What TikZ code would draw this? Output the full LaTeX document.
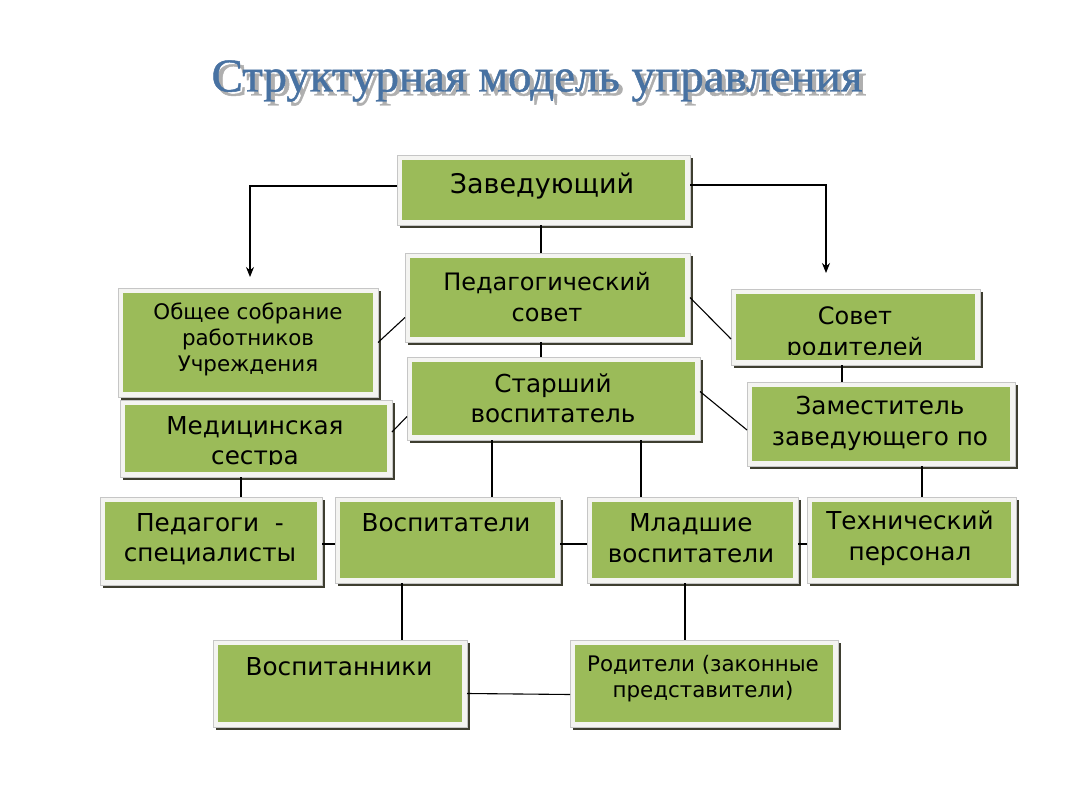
\documentclass[tikz,border=0pt]{standalone}
\usepackage{fontspec}
\setmainfont{DejaVu Sans}
\newfontfamily\titlefont[FakeBold=1]{Liberation Serif}
\usetikzlibrary{arrows.meta}
\definecolor{boxgreen}{HTML}{9BBB59}
\definecolor{boxrim}{HTML}{F4F4F1}
\definecolor{boxshade}{RGB}{62,62,48}
\definecolor{titleblue}{RGB}{72,114,162}
\definecolor{titleshade}{RGB}{175,175,175}
\tikzset{
  rimbox/.style={fill=boxrim, draw=gray!45, line width=0.5pt, inner sep=0pt, outer sep=0pt,
    path picture={\fill[boxgreen] ([shift={(5pt,-5pt)}]path picture bounding box.north west) rectangle ([shift={(-5pt,5pt)}]path picture bounding box.south east);}},
  boxtext/.style={align=center, inner sep=0pt, text=black},
  conn/.style={draw=black, line width=1.1pt},
  arr/.style={conn, -{Stealth[length=10pt,width=8pt]}},
  titletext/.style={font=\titlefont\fontsize{47}{52}\selectfont}
}
\newcommand\gbox[5]{%
  \fill[boxshade] (#2+3,#3+3) rectangle (#4+2.5,#5+2.5);
  \node[rimbox, anchor=north west, minimum width={(#4-#2)*1pt}, minimum height={(#5-#3)*1pt}] (#1) at (#2,#3) {};
}
\newcommand\fs[2]{\fontsize{#1}{#2}\selectfont}
\begin{document}
\begin{tikzpicture}[x=1pt,y=-1pt]
\useasboundingbox (0,0) rectangle (1080,811);
\fill[white] (0,0) rectangle (1080,811);
% title with its shadow
\node[titletext, text=titleshade] (titlesh) at (541,85) {Структурная модель управления};
\node[titletext, text=titleblue] (title) at (537,81) {Структурная модель управления};

\coordinate (arrL) at (250,277);
\coordinate (arrR) at (826,273);

% boxes
\gbox{zav}{397}{155}{690}{225}
\gbox{ps}{405}{253}{690}{342}
\gbox{ob}{118}{288}{378}{397}
\gbox{sr}{731}{289}{980}{365}
\gbox{st}{407}{357}{700}{440}
\gbox{med}{120}{400}{392}{477}
\gbox{zam}{747}{382}{1015}{466}
\gbox{ped}{100}{497}{322}{585}
\gbox{vos}{335}{497}{560}{583}
\gbox{mla}{587}{497}{798}{583}
\gbox{teh}{807}{497}{1016}{583}
\gbox{vnik}{213}{640}{467}{727}
\gbox{rod}{570}{640}{838}{727}

% texts
\node[boxtext, font=\fs{27}{34}] (zavt) at (542,186) {Заведующий};
\node[boxtext, font=\fs{24}{31}] (pst) at (547,297) {Педагогический\\совет};
\node[boxtext, font=\fs{21.4}{26}] (obt) at (248,339.5) {Общее собрание\\работников\\Учреждения};
\begin{scope}
\clip (736,294) rectangle (975,354);
\node[boxtext, font=\fs{24}{31}] (srt) at (855,334) {Совет\\родителей};
\end{scope}
\node[boxtext, font=\fs{24.7}{30}] (stt) at (553,398.5) {Старший\\воспитатель};
\begin{scope}
\clip (125,405) rectangle (387,464);
\node[boxtext, font=\fs{24.7}{30}] (medt) at (255,443.5) {Медицинская\\сестра};
\end{scope}
\node[boxtext, font=\fs{24.7}{31}] (zamt) at (880,423.5) {Заместитель\\заведующего по};
\node[boxtext, font=\fs{24.7}{30}] (pedt) at (210,539.5) {Педагоги \ -\\специалисты};
\node[boxtext, font=\fs{24.7}{31}] (vost) at (446,523) {Воспитатели};
\node[boxtext, font=\fs{24.7}{31}] (mlat) at (691,538.5) {Младшие\\воспитатели};
\node[boxtext, font=\fs{24.7}{31}] (teht) at (910,538.5) {Технический\\персонал};
\node[boxtext, font=\fs{24.7}{31}] (vnikt) at (339,667) {Воспитанники};
\node[boxtext, font=\fs{21.4}{26}] (rodt) at (703,678.5) {Родители (законные\\представители)};

% connectors
\draw[arr] ([shift={(0,-4)}]zav.west) -| (arrL);
\draw[arr] ([shift={(0,-5)}]zav.east) -| (arrR);
\draw[conn] ([xshift=-2.5pt]zav.south) -- ([xshift=-2.5pt]zav.south |- ps.north);
\draw[conn] ([xshift=-6.5pt]ps.south) -- ([xshift=-6.5pt]ps.south |- st.north);
\draw[conn] (ob.east) -- ([shift={(0,20)}]ps.west);
\draw[conn] (ps.east) -- ([shift={(0,12)}]sr.west);
\draw[conn] ([shift={(0,-6.5)}]med.east) -- ([shift={(0,18)}]st.west);
\draw[conn] ([shift={(0,-7)}]st.east) -- ([shift={(0,6)}]zam.west);
\draw[conn] ([xshift=-13.5pt]sr.south) -- ([xshift=-13.5pt]sr.south |- zam.north);
\draw[conn] ([xshift=-15pt]med.south) -- ([xshift=-15pt]med.south |- ped.north);
\draw[conn] ([xshift=-61.5pt]st.south) -- ([xshift=-61.5pt]st.south |- vos.north);
\draw[conn] ([xshift=87.5pt]st.south) -- ([xshift=87.5pt]st.south |- mla.north);
\draw[conn] ([xshift=41pt]zam.south) -- ([xshift=41pt]zam.south |- teh.north);
\draw[conn] ([shift={(0,3)}]ped.east) -- ([shift={(0,3)}]ped.east -| vos.west);
\draw[conn] ([shift={(0,4)}]vos.east) -- ([shift={(0,4)}]vos.east -| mla.west);
\draw[conn] ([shift={(0,4)}]mla.east) -- ([shift={(0,4)}]mla.east -| teh.west);
\draw[conn] ([xshift=-45.5pt]vos.south) -- ([xshift=-45.5pt]vos.south |- vnik.north);
\draw[conn] ([xshift=-7.5pt]mla.south) -- ([xshift=-7.5pt]mla.south |- rod.north);
\draw[conn] ([shift={(0,10)}]vnik.east) -- ([shift={(0,11)}]rod.west);
\end{tikzpicture}
\end{document}
